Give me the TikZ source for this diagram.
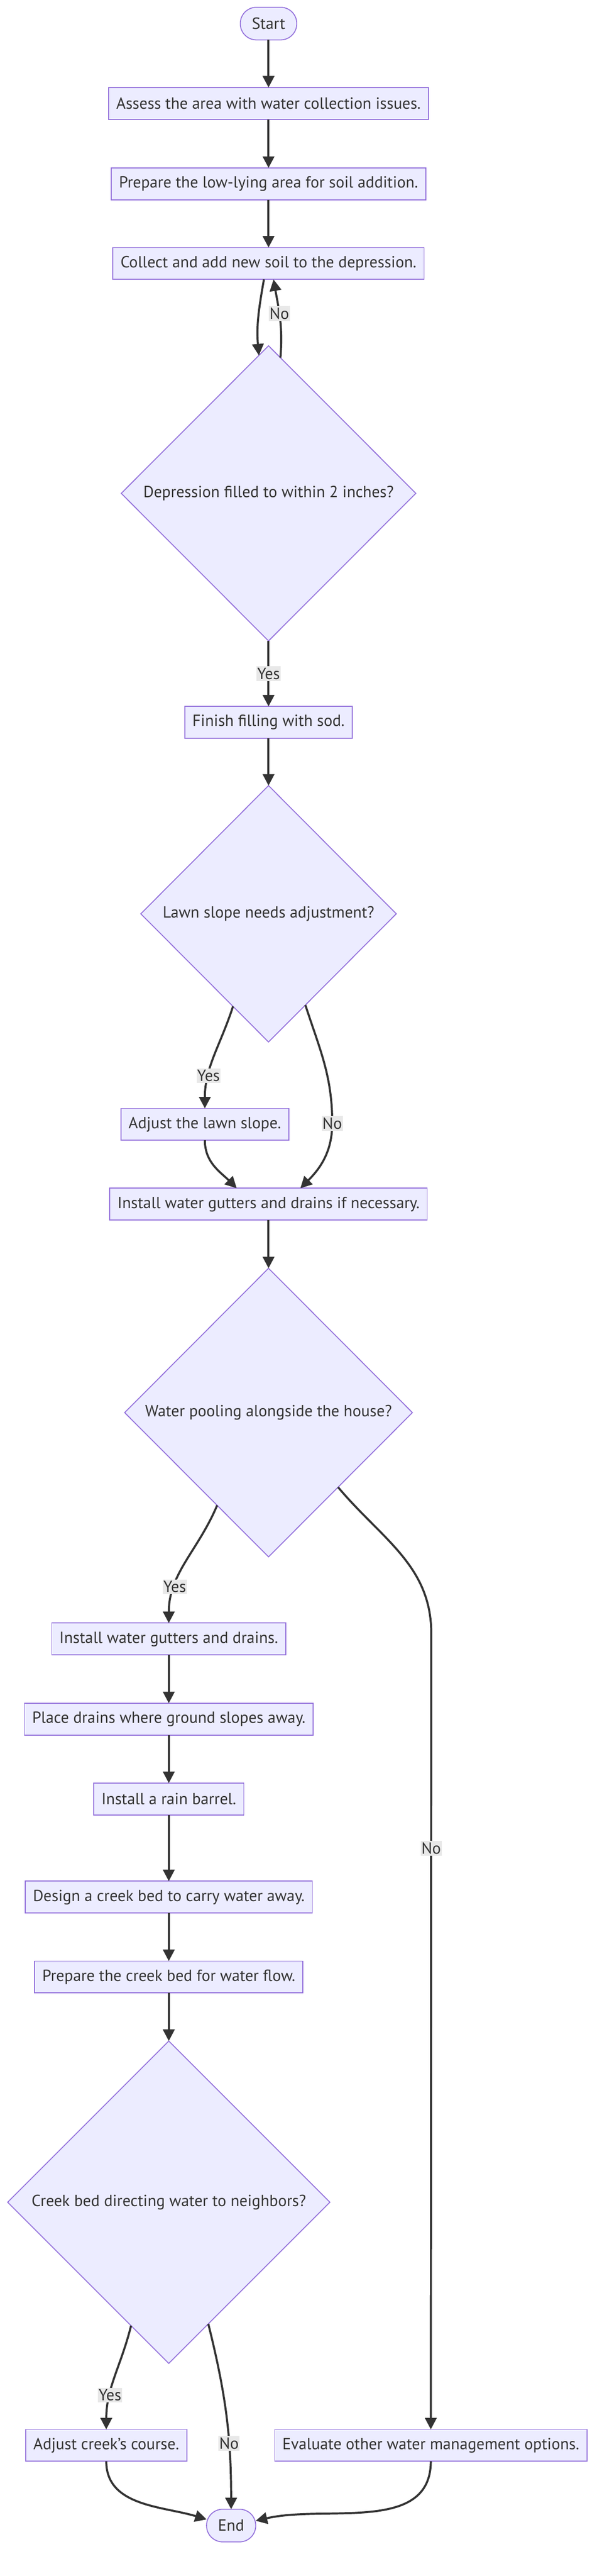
\documentclass[tikz,border=0pt]{standalone}
\usepackage{fontspec}
\setmainfont{PT Sans}
\usetikzlibrary{positioning, arrows.meta, shapes.geometric}

\definecolor{nodefill}{HTML}{ECECFF}
\definecolor{nodeline}{HTML}{9370DB}
\definecolor{edgeline}{HTML}{333333}
\definecolor{lblfill}{HTML}{E8E8E8}

\begin{document}
\begin{tikzpicture}[
    every node/.style={font=\fontsize{21}{25}\selectfont, text=edgeline},
    terminal/.style={draw=nodeline, fill=nodefill, line width=1.2pt, outer sep=0pt, rounded corners=21pt, minimum height=42.5pt, inner xsep=15pt},
    process/.style={draw=nodeline, fill=nodefill, line width=1.2pt, outer sep=0pt, minimum height=41.5pt, inner xsep=10pt},
    decision/.style={diamond, draw=nodeline, fill=nodefill, line width=1.2pt, outer sep=0pt, inner sep=0pt},
    arrow/.style={-{Triangle[length=15pt, width=15pt]}, line width=2.65pt, draw=edgeline},
    edgelbl/.style={fill=lblfill, inner xsep=1pt, inner ysep=2pt}
]
\useasboundingbox (0,0) rectangle (784pt,-3356pt);

% Soil filling
\node[terminal] (start) at (350pt,-30.75pt) {Start};
\node[process, below=62pt of start] (assess) {Assess the area with water collection issues.};
\node[process, below=63.25pt of assess] (prepare) {Prepare the low-lying area for soil addition.};
\node[process, below=62.25pt of prepare] (collect) {Collect and add new soil to the depression.};
\node[decision, below=86.5pt of collect, minimum width=384pt, minimum height=384.5pt] (filled) {Depression filled to within 2 inches?};
\node[process, below=85.3pt of filled] (sod) {Finish filling with sod.};

% Lawn slope
\node[decision, below=61.7pt of sod, minimum width=333pt, minimum height=334pt] (slope) {Lawn slope needs adjustment?};
\node[process, below=86.5pt of slope, xshift=-83pt] (adjslope) {Adjust the lawn slope.};
\node[process, below=190.5pt of slope] (gutters) {Install water gutters and drains if necessary.};

% Water along the house
\node[decision, below=62.8pt of gutters, minimum width=375pt, minimum height=376pt] (pooling) {Water pooling alongside the house?};
\node[process, below=86.2pt of pooling, xshift=-130pt] (install) {Install water gutters and drains.};
\node[process, below=62.9pt of install] (drains) {Place drains where ground slopes away.};
\node[process, below=62.6pt of drains] (barrel) {Install a rain barrel.};
\node[process, below=86.25pt of barrel] (design) {Design a creek bed to carry water away.};
\node[process, below=62.6pt of design] (creekprep) {Prepare the creek bed for water flow.};

% Creek bed check
\node[decision, below=62.65pt of creekprep, minimum width=420pt, minimum height=420pt] (neighbors) {Creek bed directing water to neighbors?};
\node[process, below=86pt of neighbors, xshift=-81.5pt] (adjcreek) {Adjust creek's course.};
\node[process, below=86pt of neighbors, xshift=341.5pt] (evaluate) {Evaluate other water management options.};
\node[terminal, below=190pt of neighbors, xshift=81.25pt] (end) {End};

% Main flow
\draw[arrow] (start) -- (assess);
\draw[arrow] (assess) -- (prepare);
\draw[arrow] (prepare) -- (collect);
\draw[arrow] ([xshift=-6pt]collect.south) to[out=-100, in=95] (filled.94.5);
\draw[arrow] (filled.85.2) to[out=85, in=-80] node[edgelbl, pos=0.57] {No} ([xshift=6.5pt]collect.south);
\draw[arrow] (filled) -- node[edgelbl] {Yes} (sod);
\draw[arrow] (sod) -- (slope);

% Slope branches
\draw[arrow] (slope.-111.3) to[out=-108, in=90] node[edgelbl, pos=0.7] {Yes} (adjslope.north);
\draw[arrow] (slope.-68.7) to[out=-72, in=90] ++(35pt,-154pt) node[edgelbl] {No} to[out=-90, in=45] ([xshift=41.5pt]gutters.north);
\draw[arrow] (adjslope.south) to[out=-90, in=135] ([xshift=-41.5pt]gutters.north);
\draw[arrow] (gutters) -- (pooling);

% Pooling branches
\draw[arrow] (pooling.-119) to[out=-113, in=90] node[edgelbl, pos=0.72] {Yes} (install.north);
\draw[arrow] (pooling.-47.7) to[out=-50, in=90] ++(121.5pt,-190.5pt) -- node[edgelbl, pos=0.27] {No} (evaluate.north);
\draw[arrow] (install) -- (drains);
\draw[arrow] (drains) -- (barrel);
\draw[arrow] (barrel) -- (design);
\draw[arrow] (design) -- (creekprep);
\draw[arrow] (creekprep) -- (neighbors);

% Creek branches
\draw[arrow] (neighbors.-107.6) to[out=-104, in=90] node[edgelbl, pos=0.69] {Yes} (adjcreek.north);
\draw[arrow] (neighbors.-72.2) to[out=-76, in=90] node[edgelbl, pos=0.66] {No} (end.north);
\draw[arrow] (adjcreek.south) to[out=-90, in=163] (end.166);
\draw[arrow] (evaluate.south) to[out=-90, in=13] (end.11);

\end{tikzpicture}
\end{document}
